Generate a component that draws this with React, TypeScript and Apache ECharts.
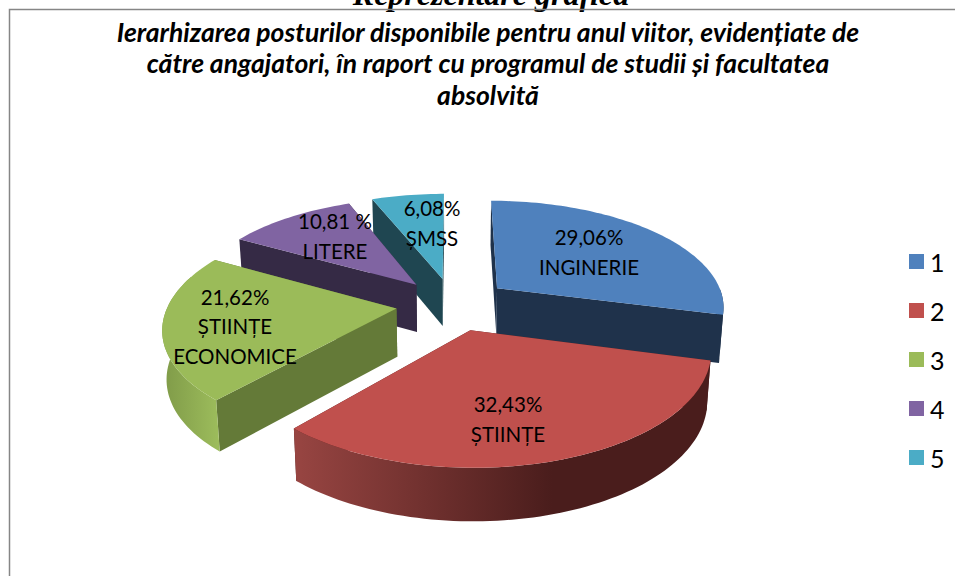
import React, { useEffect, useRef } from "react";
import * as echarts from "echarts";

const names = ["1", "2", "3", "4", "5"];
const values = [29.06, 32.43, 21.62, 10.81, 6.08];
const percentLabels = ["29,06%", "32,43%", "21,62%", "10,81 %", "6,08%"];
const categoryLabels = ["INGINERIE", "ȘTIINȚE", "ȘTIINȚE\nECONOMICE", "LITERE", "ȘMSS"];
const topColors = ["#4f81bd", "#c0504d", "#9bbb59", "#8064a2", "#4bacc6"];
const faceColors = ["#1f324b", "#4d1f1e", "#647a38", "#352a45", "#1f4651"];
const wallStops = [
  ["#1f324b", "#1f324b"],
  ["#984542", "#4a1d1c"],
  ["#7f9a48", "#9dbd5c"],
  ["#352a45", "#352a45"],
  ["#1f4651", "#1f4651"],
];
const labelCenters = [
  [589, 252],
  [508, 419],
  [235, 326],
  [335, 236],
  [432, 223],
];
const drawOrder = [4, 3, 0, 2, 1];

const CX = 453;
const CY = 304;
const R = 228;
const EXPLODE = 57;
const PERSPECTIVE = 0.0007;
const TILT = 0.465;
const DEPTH = 48;
const BASE_SHRINK = 0.985;

const total = values.reduce((a, b) => a + b, 0);
const rad = (d: number) => (d * Math.PI) / 180;

function project(x: number, y: number, lowered: boolean) {
  const s = 1 / (1 - PERSPECTIVE * y);
  return [
    CX + x * s * (lowered ? BASE_SHRINK : 1),
    CY + TILT * y * s + (lowered ? DEPTH * Math.sqrt(s) : 0),
  ];
}

function renderSlice(index: number) {
  let before = 0;
  for (let i = 0; i < index; i++) before += values[i];
  const a0 = (before / total) * 360;
  const a1 = ((before + values[index]) / total) * 360;
  const mid = (a0 + a1) / 2;
  const ax = Math.sin(rad(mid)) * EXPLODE;
  const ay = -Math.cos(rad(mid)) * EXPLODE;
  const rim = (a: number, lowered: boolean) =>
    project(ax + Math.sin(rad(a)) * R, ay - Math.cos(rad(a)) * R, lowered);

  const top: number[][] = [project(ax, ay, false)];
  for (let a = a0; a < a1; a += 1.5) top.push(rim(a, false));
  top.push(rim(a1, false));

  const face = (a: number) => [project(ax, ay, false), rim(a, false), rim(a, true), project(ax, ay, true)];
  const children: any[] = [
    { type: "polygon", shape: { points: face(a1) }, style: { fill: faceColors[index] } },
    { type: "polygon", shape: { points: face(a0) }, style: { fill: faceColors[index] } },
  ];

  const w0 = Math.max(a0, 90);
  const w1 = Math.min(a1, 288);
  if (w1 > w0) {
    const upper: number[][] = [];
    const lower: number[][] = [];
    for (let a = w0; a < w1; a += 1.5) {
      upper.push(rim(a, false));
      lower.unshift(rim(a, true));
    }
    upper.push(rim(w1, false));
    lower.unshift(rim(w1, true));
    const stops = wallStops[index];
    children.push({
      type: "polygon",
      shape: { points: upper.concat(lower) },
      style: {
        fill: new echarts.graphic.LinearGradient(0, 0, 1, 0, [
          { offset: 0, color: stops[0] },
          { offset: index === 1 ? 0.62 : 1, color: stops[1] },
          { offset: 1, color: stops[1] },
        ]),
      },
    });
  }
  children.push({ type: "polygon", shape: { points: top }, style: { fill: topColors[index] } });
  children.push({
    type: "text",
    x: labelCenters[index][0],
    y: labelCenters[index][1],
    style: {
      text: percentLabels[index] + "\n" + categoryLabels[index],
      fill: "#000",
      font: "20.5px Lato",
      lineHeight: 29.5,
      align: "center",
      verticalAlign: "middle",
    },
  });
  return { type: "group", children };
}

export default function App() {
  const ref = useRef<HTMLDivElement>(null);
  useEffect(() => {
    const chart = echarts.init(ref.current!, null, { renderer: "svg" });
    chart.setOption({
      animation: false,
      backgroundColor: "#fff",
      title: {
        text: "Ierarhizarea posturilor disponibile pentru anul viitor, evidențiate de\ncătre angajatori, în raport cu programul de studii și facultatea\nabsolvită",
        left: 483,
        top: 11,
        textAlign: "center",
        textStyle: {
          fontFamily: "Lato",
          fontSize: 26.5,
          fontWeight: "bold",
          fontStyle: "italic",
          color: "#000",
          lineHeight: 31.5,
        },
      },
      legend: {
        orient: "vertical",
        left: 904,
        top: 244,
        itemWidth: 15,
        itemHeight: 15,
        itemGap: 24,
        data: names.map((name, i) => ({ name, icon: "rect", itemStyle: { color: topColors[i] } })),
        textStyle: { fontFamily: "Lato", fontSize: 25, color: "#000", lineHeight: 15, padding: [0, 0, 0, 1] },
      },
      graphic: [
        {
          type: "text",
          x: 491,
          y: 10,
          style: {
            text: "Reprezentare grafică",
            font: "italic bold 32px 'Liberation Serif'",
            fill: "#000",
            align: "center",
            verticalAlign: "bottom",
          },
        },
        {
          type: "polyline",
          shape: { points: [[9.5, 576], [9.5, 9.5], [955, 9.5]] },
          style: { stroke: "#868686", lineWidth: 1.5, fill: "none" },
        },
      ],
      series: names.map((name, i) => ({
        type: "custom",
        name,
        coordinateSystem: "none",
        z: 2 + drawOrder.indexOf(i),
        itemStyle: { color: topColors[i] },
        data: [values[i]],
        renderItem: () => renderSlice(i),
      })),
    });
    return () => chart.dispose();
  }, []);
  return <div ref={ref} style={{ position: "absolute", left: 0, top: 0, width: 955, height: 576 }} />;
}
